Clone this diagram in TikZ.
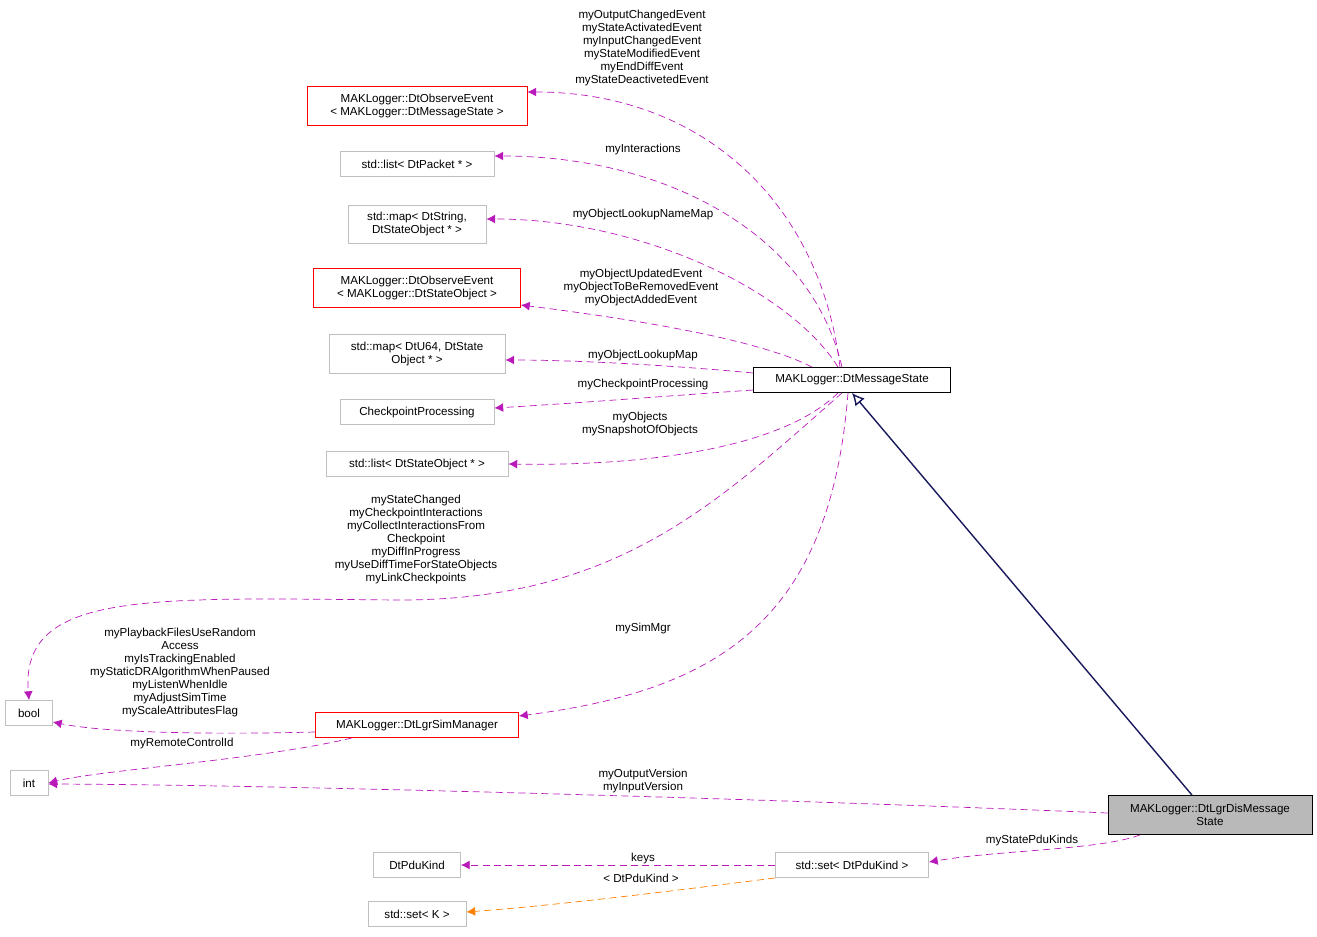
\documentclass[tikz,border=0pt]{standalone}
\usepackage{fontspec}
\setmainfont{Liberation Sans}
\usetikzlibrary{arrows.meta}
\begin{document}
\begin{tikzpicture}[x=0.02cm,y=-0.02cm,font=\fontsize{6.6}{7.4}\selectfont]
\tikzset{
  cls/.style={draw=#1,fill=white,inner sep=0pt,minimum height=0.5cm,align=center,line width=0.5pt},
  cls/.default=gray!50,
  usage/.style={draw=violet!60!magenta!90,dashed,dash pattern=on 4pt off 2.5pt,-{Latex[length=5pt,width=5pt]}},
  tmpl/.style={draw=orange,dashed,dash pattern=on 4pt off 2.5pt,-{Latex[length=5pt,width=5pt]}},
  inherit/.style={draw=blue!30!black!90,thick,-{Latex[length=7pt,width=7pt,open]}},
  lbl/.style={align=center,inner sep=0pt,font=\fontsize{6.6}{7.4}\selectfont}
}
\useasboundingbox (0,0) rectangle (1317,936);
% classes
\node[cls=red,minimum width=4.4cm,minimum height=0.78cm] (obsms) at (417,106) {MAKLogger::DtObserveEvent\\< MAKLogger::DtMessageState >};
\node[cls,minimum width=3.08cm] (lstpkt) at (417,164) {std::list< DtPacket * >};
\node[cls,minimum width=2.76cm,minimum height=0.76cm] (mapstr) at (417,224) {std::map< DtString,\\DtStateObject * >};
\node[cls=red,minimum width=4.14cm,minimum height=0.78cm] (obsso) at (417,288) {MAKLogger::DtObserveEvent\\< MAKLogger::DtStateObject >};
\node[cls,minimum width=3.52cm,minimum height=0.78cm] (mapu64) at (417,354) {std::map< DtU64, DtState\\Object * >};
\node[cls,minimum width=3.08cm] (ckpt) at (417,412) {CheckpointProcessing};
\node[cls,minimum width=3.64cm] (lstso) at (417,464) {std::list< DtStateObject * >};
\node[cls=black,minimum width=3.94cm] (msgstate) at (852,380) {MAKLogger::DtMessageState};
\node[cls,minimum width=0.94cm] (bool) at (29,713) {bool};
\node[cls=red,minimum width=4.06cm] (simmgr) at (417,725) {MAKLogger::DtLgrSimManager};
\node[cls,minimum width=0.76cm] (int) at (29,783) {int};
\node[cls=black,fill=gray!55,minimum width=4.08cm,minimum height=0.78cm] (dismsg) at (1210,815) {MAKLogger::DtLgrDisMessage\\State};
\node[cls,minimum width=1.74cm] (pdukind) at (417,865) {DtPduKind};
\node[cls,minimum width=3.06cm] (setpdu) at (852,865) {std::set< DtPduKind >};
\node[cls,minimum width=1.96cm] (setk) at (417,914) {std::set< K >};
% connectors
\draw[inherit] (dismsg.north) ++(-18,0) coordinate (inhA) (inhA) -- (msgstate.south);
\draw[usage] (msgstate.north) ++(-12,0) .. controls (820,200) and (700,92) .. (obsms.east |- 0,92);
\node[lbl] at (642,48) {myOutputChangedEvent\\myStateActivatedEvent\\myInputChangedEvent\\myStateModifiedEvent\\myEndDiffEvent\\myStateDeactivetedEvent};
\draw[usage] (msgstate.north) ++(-10,0) .. controls (810,230) and (660,156) .. (lstpkt.east |- 0,156);
\node[lbl] at (643,150) {myInteractions};
\draw[usage] (msgstate.north) ++(-14,0) .. controls (790,290) and (640,219) .. (mapstr.east |- 0,219);
\node[lbl] at (643,214) {myObjectLookupNameMap};
\draw[usage] (msgstate.north) ++(-40,0) .. controls (760,340) and (640,320) .. (obsso.east |- 0,305);
\node[lbl] at (641,287) {myObjectUpdatedEvent\\myObjectToBeRemovedEvent\\myObjectAddedEvent};
\draw[usage] (msgstate.west |- 0,373) .. controls (680,366) and (580,360) .. (mapu64.east |- 0,360);
\node[lbl] at (643,355) {myObjectLookupMap};
\draw[usage] (msgstate.west |- 0,390) .. controls (680,395) and (580,403) .. (ckpt.east |- 0,408);
\node[lbl] at (643,384) {myCheckpointProcessing};
\draw[usage] (msgstate.south) ++(-14,0) .. controls (780,450) and (640,466) .. (lstso.east |- 0,464);
\node[lbl] at (640,424) {myObjects\\mySnapshotOfObjects};
\draw[usage] (msgstate.south) ++(-10,0) .. controls (720,500) and (620,600) .. (400,600) .. controls (150,598) and (20,590) .. (bool.north);
\node[lbl] at (416,539) {myStateChanged\\myCheckpointInteractions\\myCollectInteractionsFrom\\Checkpoint\\myDiffInProgress\\myUseDiffTimeForStateObjects\\myLinkCheckpoints};
\draw[usage] (msgstate.south) ++(-4,0) .. controls (830,620) and (720,690) .. (simmgr.east |- 0,716);
\node[lbl] at (643,628) {mySimMgr};
\draw[usage] (simmgr.west |- 0,732) .. controls (200,735) and (100,732) .. (bool.east |- 0,722);
\node[lbl] at (180,672) {myPlaybackFilesUseRandom\\Access\\myIsTrackingEnabled\\myStaticDRAlgorithmWhenPaused\\myListenWhenIdle\\myAdjustSimTime\\myScaleAttributesFlag};
\draw[usage] (simmgr.south) ++(-65,0) .. controls (260,760) and (100,770) .. (int.east |- 0,783);
\node[lbl] at (182,743) {myRemoteControlId};
\draw[usage] (dismsg.west |- 0,813) .. controls (800,800) and (300,785) .. (int.east |- 0,784);
\node[lbl] at (643,781) {myOutputVersion\\myInputVersion};
\draw[usage] (dismsg.south) ++(-70,0) .. controls (1100,850) and (1000,850) .. (setpdu.east |- 0,862);
\node[lbl] at (1032,840) {myStatePduKinds};
\draw[usage] (setpdu.west) -- (pdukind.east);
\node[lbl] at (643,858) {keys};
\draw[tmpl] (setpdu.south west) .. controls (680,890) and (560,905) .. (setk.east |- 0,912);
\node[lbl] at (641,878) {< DtPduKind >};
\end{tikzpicture}
\end{document}
